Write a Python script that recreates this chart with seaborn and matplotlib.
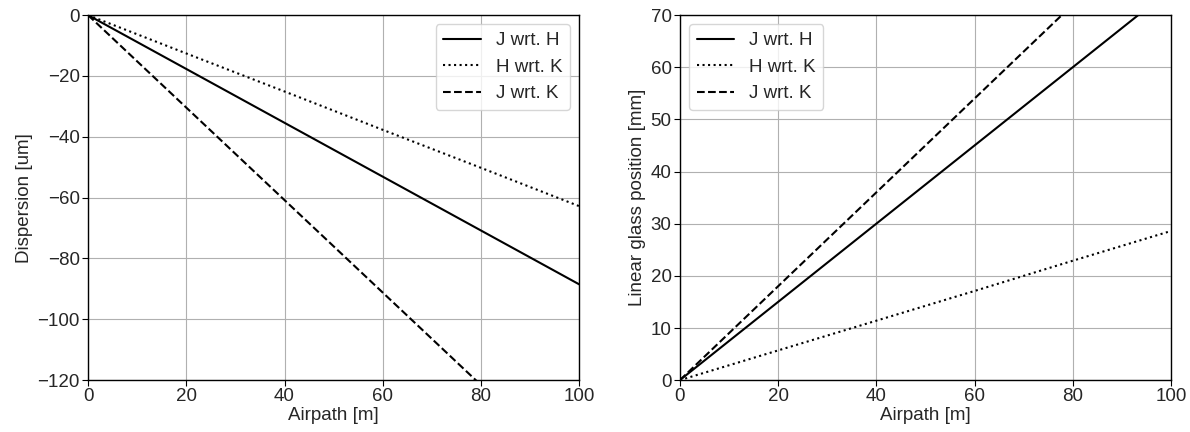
import numpy as np
import pandas as pd
import matplotlib
matplotlib.use("Agg")
import matplotlib.pyplot as plt
import seaborn as sns

airpath = [0, 20, 40, 60, 80, 100]
labels = ['J wrt. H', 'H wrt. K', 'J wrt. K']
styles = ['-', ':', '--']

# dispersion [um]
disp_jh = [0, -17.7, -35.4, -53.1, -70.8, -88.5]
disp_hk = [0, -12.6, -25.1, -37.7, -50.2, -62.8]
disp_jk = [0, -30.4, -60.8, -91.2, -121.6, -152.0]

# linear glass position [mm]
glass_jh = [0, 15.0, 30.0, 45.0, 60.0, 75.0]
glass_hk = [0, 5.7, 11.4, 17.1, 22.9, 28.6]
glass_jk = [0, 18.0, 36.0, 54.0, 72.0, 90.0]

sns.set_style("ticks", {"axes.grid": True, "grid.color": "#b0b0b0",
                        "axes.edgecolor": "black"})
plt.rcParams['font.family'] = ['Liberation Sans', 'DejaVu Sans']
fs = 13.5

fig, axs = plt.subplots(1, 2, figsize=(11.9, 4.32), dpi=100)

for ax, series in zip(axs, [(disp_jh, disp_hk, disp_jk), (glass_jh, glass_hk, glass_jk)]):
    for y, lab, ls in zip(series, labels, styles):
        df = pd.DataFrame({'x': airpath, 'y': y})
        sns.lineplot(data=df, x='x', y='y', color='black', linestyle=ls,
                     linewidth=1.5, label=lab, ax=ax)
    ax.set_xlim(0, 100)
    ax.set_xlabel('Airpath [m]', fontsize=fs, labelpad=1)
    ax.tick_params(labelsize=fs, length=4, color='black', pad=2)
    for sp in ax.spines.values():
        sp.set_linewidth(1.0)

axs[0].set_ylim(-120, 0)
axs[0].set_ylabel('Dispersion [um]', fontsize=fs, labelpad=3)
axs[0].legend(loc='upper right', fontsize=fs)
axs[1].set_ylim(0, 70)
axs[1].set_ylabel('Linear glass position [mm]', fontsize=fs, labelpad=3)
axs[1].legend(loc='upper left', fontsize=fs)

fig.subplots_adjust(left=0.074, right=0.984, top=0.965, bottom=0.12, wspace=0.205)
fig.savefig('out.png', dpi=100)
